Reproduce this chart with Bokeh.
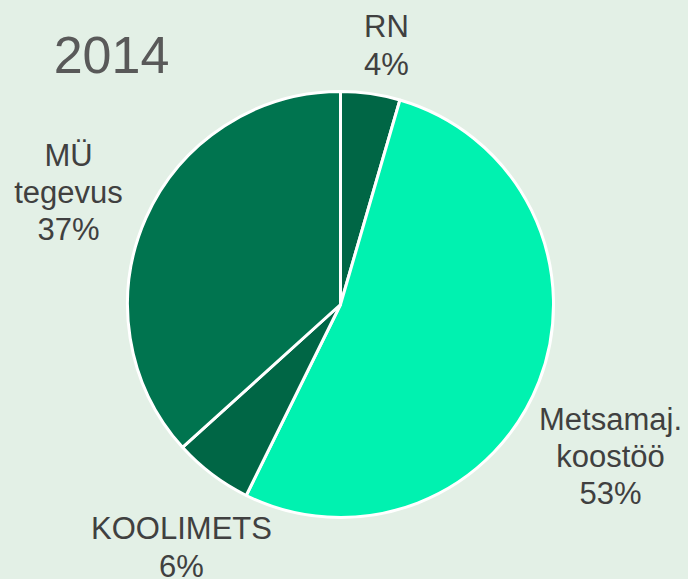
import math
from bokeh.plotting import figure
from bokeh.models import Range1d, ColumnDataSource
from bokeh.core.properties import value
from bokeh.embed import file_html
from bokeh.resources import INLINE

# ---- data ----
categories = ["RN", "Metsamaj. koostöö", "KOOLIMETS", "MÜ tegevus"]
shares = [4.5, 52.8, 6.0, 36.7]
label_lines = ["RN\n4%", "Metsamaj.\nkoostöö\n53%", "KOOLIMETS\n6%", "MÜ\ntegevus\n37%"]
title_text = "2014"

# ---- style / layout ----
colors = ["#006645", "#00f2b0", "#006645", "#00744f"]
bg = "#e3f0e6"
W, H = 688, 579          # figure size
cx, cy, r = 340, 579 - 304, 213   # pie centre (x, y-up) and radius in figure units
label_pos = [(386, 579 - 45), (610, 579 - 456), (181, 579 - 547), (68, 579 - 192)]

total = sum(shares)
starts, ends = [], []
acc = 0.0
for s in shares:
    a0 = math.pi / 2 - 2 * math.pi * acc / total
    acc += s
    a1 = math.pi / 2 - 2 * math.pi * acc / total
    starts.append(a0)
    ends.append(a1)

src = ColumnDataSource(dict(cat=categories, val=shares, start=starts, end=ends,
                            color=colors, x=[cx] * 4, y=[cy] * 4))

p = figure(width=W, height=H, output_backend="svg", toolbar_location=None,
           x_range=Range1d(0, W), y_range=Range1d(579 - H, 579),
           min_border=0)
p.axis.visible = False
p.grid.visible = False
p.outline_line_color = None
p.background_fill_color = bg
p.border_fill_color = bg

p.wedge(x="x", y="y", radius=r, start_angle="start", end_angle="end",
        direction="clock", fill_color="color", line_color="white",
        line_width=3, source=src)

lsrc = ColumnDataSource(dict(x=[q[0] for q in label_pos], y=[q[1] for q in label_pos],
                             t=label_lines))
p.text(x="x", y="y", text="t", source=lsrc, text_font=value("Liberation Sans"),
       text_font_size="31px", text_color="#404040", text_align="center",
       text_baseline="middle", text_line_height=1.07)

p.text(x=[111], y=[579 - 54], text=[title_text], text_font=value("Liberation Sans"),
       text_font_size="52px", text_color="#595959", text_align="center",
       text_baseline="middle")

html = file_html(p, INLINE)
html = html.replace("<body>", '<body style="background:%s">' % bg)
open("out.html", "w").write(html)
